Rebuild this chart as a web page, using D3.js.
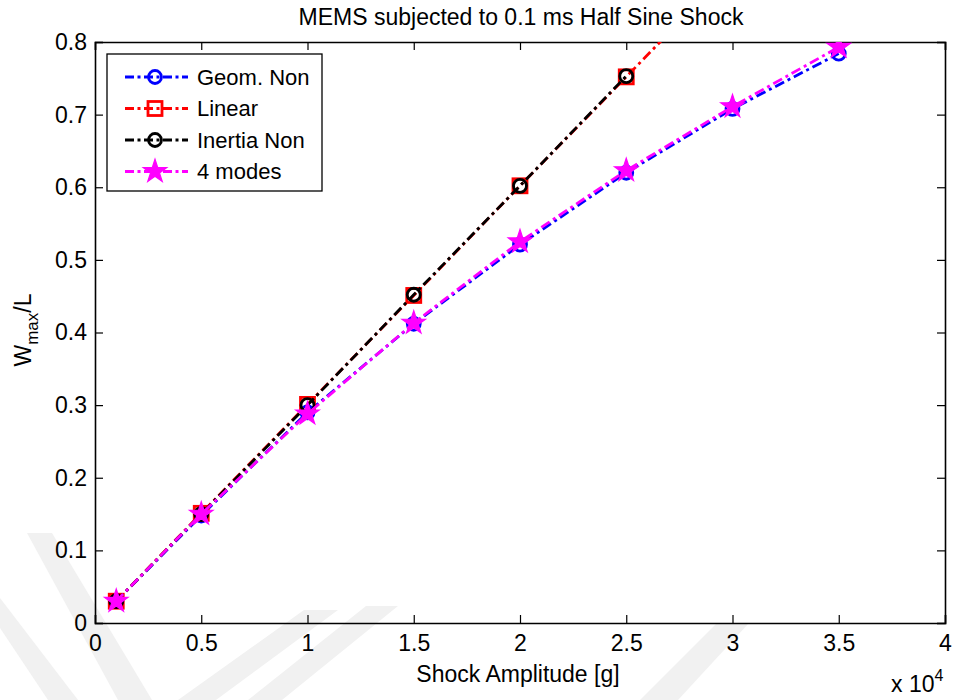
<!DOCTYPE html>
<html>
<head>
<meta charset="utf-8">
<script src="https://cdn.jsdelivr.net/npm/d3@7"></script>
<style>
  html, body { margin: 0; padding: 0; background: #fff; }
  svg { display: block; font-family: "Liberation Sans", Arial, sans-serif; }
</style>
</head>
<body>
<svg id="chart" width="953" height="700"></svg>
<script>
// Shock amplitude in units of 10^4 g
const amplitude = [0.1, 0.5, 1, 1.5, 2, 2.5, 3, 3.5];

// Normalised maximum deflection W_max/L for each model
const geomNon    = [0.030, 0.148, 0.290, 0.412, 0.521, 0.620, 0.708, 0.784];
const linear     = [0.030, 0.151, 0.301, 0.451, 0.602, 0.752, 0.903, 1.053];
const inertiaNon = [0.030, 0.150, 0.300, 0.452, 0.602, 0.753];
const fourModes  = [0.030, 0.150, 0.288, 0.413, 0.525, 0.623, 0.711, 0.793];

const xTicks = [0, 0.5, 1, 1.5, 2, 2.5, 3, 3.5, 4];
const yTicks = [0, 0.1, 0.2, 0.3, 0.4, 0.5, 0.6, 0.7, 0.8];

const seriesList = [
  { name: "Geom. Non",   values: geomNon,    color: "#0000ff", marker: "circle" },
  { name: "Linear",      values: linear,     color: "#ff0000", marker: "square" },
  { name: "Inertia Non", values: inertiaNon, color: "#000000", marker: "circle" },
  { name: "4 modes",     values: fourModes,  color: "#ff00ff", marker: "star" }
];

const svg = d3.select("#chart");
const plotLeft = 95, plotRight = 945, plotTop = 42, plotBottom = 623;
const fontSize = "23px";
const legendFontSize = "22px";

// faint background watermark bands
const wm = svg.append("g").attr("fill", "#f1f1f1");
[
  [[27,533],[52,533],[152,700],[118,700]],
  [[0,598],[0,628],[48,700],[78,700]],
  [[178,700],[216,700],[338,610],[304,610]],
  [[248,700],[282,700],[398,606],[366,606]],
  [[640,700],[678,700],[748,624],[716,624]]
].forEach(p => wm.append("polygon").attr("points", p.map(d => d.join(",")).join(" ")));

const x = d3.scaleLinear().domain([0, 4]).range([plotLeft, plotRight]);
const y = d3.scaleLinear().domain([0, 0.8]).range([plotBottom, plotTop]);

svg.append("defs").append("clipPath").attr("id", "plotArea")
  .append("rect").attr("x", plotLeft).attr("y", plotTop)
  .attr("width", plotRight - plotLeft).attr("height", plotBottom - plotTop);

// axes with inward ticks on all four sides
const tickLen = 8;
const gx = svg.append("g").attr("transform", `translate(0,${plotBottom})`)
  .call(d3.axisBottom(x).tickValues(xTicks).tickSize(-tickLen).tickPadding(12)
        .tickFormat(d3.format("~g")));
const gxTop = svg.append("g").attr("transform", `translate(0,${plotTop})`)
  .call(d3.axisTop(x).tickValues(xTicks).tickSize(-tickLen).tickFormat(""));
const gy = svg.append("g").attr("transform", `translate(${plotLeft},0)`)
  .call(d3.axisLeft(y).tickValues(yTicks).tickSize(-tickLen).tickPadding(8)
        .tickFormat(d3.format("~g")));
const gyRight = svg.append("g").attr("transform", `translate(${plotRight},0)`)
  .call(d3.axisRight(y).tickValues(yTicks).tickSize(-tickLen).tickFormat(""));

[gx, gxTop, gy, gyRight].forEach(g => {
  g.select(".domain").attr("stroke", "#000").attr("stroke-width", 1.6);
  g.selectAll(".tick line").attr("stroke", "#000").attr("stroke-width", 1.2);
  g.selectAll(".tick text").attr("fill", "#000").style("font-size", fontSize)
    .style("font-family", "'Liberation Sans', Arial, sans-serif");
});
gx.selectAll(".tick text").attr("dy", "0.71em");

// data lines and markers
const plot = svg.append("g").attr("clip-path", "url(#plotArea)");
const lineGen = d3.line().x((d, i) => x(amplitude[i])).y(d => y(d));
const dash = "10,4,3,4";

function drawMarker(g, type, cx, cy, color) {
  if (type === "circle") {
    g.append("circle").attr("cx", cx).attr("cy", cy).attr("r", 6.5)
      .attr("fill", "none").attr("stroke", color).attr("stroke-width", 2.8);
  } else if (type === "square") {
    g.append("rect").attr("x", cx - 7).attr("y", cy - 7).attr("width", 14).attr("height", 14)
      .attr("fill", "none").attr("stroke", color).attr("stroke-width", 2.8);
  } else {
    g.append("path").attr("transform", `translate(${cx},${cy})`)
      .attr("d", d3.symbol().type(d3.symbolStar).size(170)())
      .attr("fill", color).attr("stroke", color).attr("stroke-width", 1.2);
  }
}

seriesList.forEach(s => {
  plot.append("path").datum(s.values).attr("d", lineGen)
    .attr("fill", "none").attr("stroke", s.color).attr("stroke-width", 2.8)
    .attr("stroke-dasharray", dash);
  s.values.forEach((v, i) => drawMarker(plot, s.marker, x(amplitude[i]), y(v), s.color));
});

// legend
const lg = svg.append("g");
lg.append("rect").attr("x", 107).attr("y", 54).attr("width", 215).attr("height", 137)
  .attr("fill", "#fff").attr("stroke", "#000").attr("stroke-width", 1.3);
const rowY = [77, 108.5, 140, 171.5];
seriesList.forEach((s, i) => {
  const ry = rowY[i];
  lg.append("line").attr("x1", 125).attr("x2", 188).attr("y1", ry).attr("y2", ry)
    .attr("stroke", s.color).attr("stroke-width", 2.8).attr("stroke-dasharray", "9,3.5,3,3.5");
  drawMarker(lg, s.marker, 155, ry, s.color);
  lg.append("text").attr("x", 197).attr("y", ry).attr("dy", "0.35em")
    .style("font-size", legendFontSize).attr("fill", "#000").text(s.name);
});

// title and axis labels
svg.append("text").attr("x", 521).attr("y", 25).attr("text-anchor", "middle")
  .style("font-size", fontSize).text("MEMS subjected to 0.1 ms Half Sine Shock");
svg.append("text").attr("x", 518).attr("y", 682).attr("text-anchor", "middle")
  .style("font-size", fontSize).text("Shock Amplitude [g]");

const xExp = svg.append("text").attr("x", 891).attr("y", 692).style("font-size", fontSize);
xExp.append("tspan").text("x 10");
xExp.append("tspan").attr("dy", -11).style("font-size", "16px").text("4");

const yl = svg.append("text").attr("transform", "translate(31,330) rotate(-90)")
  .attr("text-anchor", "middle").style("font-size", fontSize);
yl.append("tspan").text("W");
yl.append("tspan").attr("dy", 7).style("font-size", "17px").text("max");
yl.append("tspan").attr("dy", -7).text("/L");
</script>
</body>
</html>
